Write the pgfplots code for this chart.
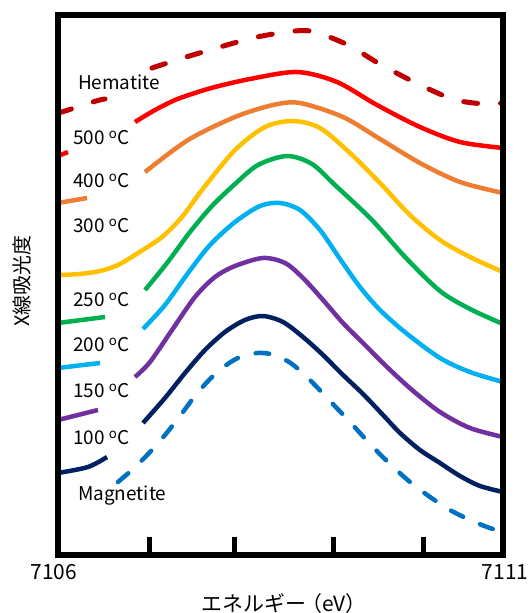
\documentclass[border=0pt]{standalone}
\usepackage{fontspec}
\setmainfont{Noto Sans CJK JP}
\usepackage{pgfplots}
\pgfplotsset{compat=1.18}
\definecolor{hem}{HTML}{C00000}
\definecolor{c500}{HTML}{FF0000}
\definecolor{c400}{HTML}{ED7D31}
\definecolor{c300}{HTML}{FFC000}
\definecolor{c250}{HTML}{00B050}
\definecolor{c200}{HTML}{00B0F0}
\definecolor{c150}{HTML}{7030A0}
\definecolor{c100}{HTML}{002060}
\definecolor{mag}{HTML}{0070C0}
\newcommand{\lab}{\fontsize{19}{19}\selectfont}
\begin{document}
\begin{tikzpicture}
\begin{axis}[
  at={(58bp,58bp)}, anchor=south west, scale only axis,
  width=445bp, height=540bp,
  xmin=7106, xmax=7111, ymin=0, ymax=540,
  axis line style={line width=6bp, black},
  axis on top,
  xtick={7107.03,7107.98,7109.10,7110.11},
  xticklabels={,,,},
  xtick pos=bottom,
  tick align=inside,
  major tick length=18bp,
  tick style={line width=5bp, black},
  ytick=\empty,
  every axis plot/.append style={line join=round},
]
% Hematite (dashed)
\addplot[hem, line width=5bp, line cap=round, dash pattern=on 14bp off 23bp, smooth] coordinates {
(7106.000,442) (7106.079,444) (7106.427,454) (7106.528,456)};
\addplot[hem, line width=5bp, line cap=round, dash pattern=on 14bp off 23bp, smooth] coordinates {
(7107.056,487) (7107.404,497) (7107.820,508) (7108.236,518) (7108.663,524) (7108.888,523) (7109.258,510) (7109.596,492) (7109.955,475) (7110.315,460) (7110.517,454) (7110.798,451) (7111.000,452)};
% 500 C
\addplot[c500, line width=4.5bp] coordinates {(7106.000,399) (7106.112,403)};
\addplot[c500, line width=4.5bp, smooth] coordinates {
(7106.865,433) (7107.090,445) (7107.315,455) (7107.539,462) (7107.764,468) (7108.157,476) (7108.685,483) (7109.135,473) (7109.584,450) (7110.067,428) (7110.517,413) (7111.000,407)};
% 400 C
\addplot[c400, line width=4.5bp] coordinates {(7106.000,352) (7106.326,357)};
\addplot[c400, line width=4.5bp, smooth] coordinates {
(7106.978,383) (7107.461,415) (7107.989,438) (7108.416,450) (7108.719,452) (7109.202,438) (7109.618,416) (7110.067,392) (7110.517,373) (7111.000,362)};
% 300 C
\addplot[c300, line width=4.5bp, smooth] coordinates {
(7106.000,280) (7106.247,281) (7106.472,284) (7106.674,290) (7106.899,302) (7107.169,318) (7107.393,338) (7107.618,365) (7107.989,405) (7108.326,428) (7108.640,434) (7108.944,427) (7109.281,402) (7109.618,372) (7109.955,340) (7110.292,315) (7110.629,298) (7111.000,283)};
% 250 C
\addplot[c250, line width=4.5bp] coordinates {(7106.000,232) (7106.528,238)};
\addplot[c250, line width=4.5bp, smooth] coordinates {
(7106.978,265) (7107.225,292) (7107.483,323) (7107.730,349) (7107.989,371) (7108.247,390) (7108.573,399) (7108.854,391) (7109.112,370) (7109.528,335) (7109.910,297) (7110.292,264) (7110.629,246) (7111.000,231)};
% 200 C
\addplot[c200, line width=4.5bp] coordinates {(7106.000,187) (7106.472,192)};
\addplot[c200, line width=4.5bp, smooth] coordinates {
(7106.955,226) (7107.202,250) (7107.461,282) (7107.708,310) (7107.989,333) (7108.270,349) (7108.494,352) (7108.719,345) (7108.944,325) (7109.169,296) (7109.393,268) (7109.618,245) (7109.910,222) (7110.292,197) (7110.629,183) (7111.000,173)};
% 150 C
\addplot[c150, line width=4.5bp] coordinates {(7106.000,135) (7106.449,145)};
\addplot[c150, line width=4.5bp, smooth] coordinates {
(7106.865,178) (7107.034,193) (7107.281,225) (7107.539,258) (7107.764,278) (7107.989,289) (7108.303,297) (7108.551,292) (7108.753,277) (7108.978,255) (7109.202,232) (7109.427,212) (7109.697,188) (7109.978,165) (7110.292,143) (7110.629,127) (7111.000,118)};
% 100 C
\addplot[c100, line width=4.5bp, smooth] coordinates {(7106.000,82) (7106.337,88) (7106.551,98)};
\addplot[c100, line width=4.5bp, smooth] coordinates {
(7106.955,132) (7107.202,157) (7107.427,182) (7107.652,205) (7107.876,223) (7108.101,235) (7108.303,239) (7108.528,233) (7108.753,218) (7108.978,200) (7109.191,181) (7109.427,161) (7109.652,140) (7109.843,122) (7110.067,105) (7110.292,92) (7110.517,79) (7110.742,69) (7111.000,63)};
% Magnetite (dashed)
\addplot[mag, line width=4.5bp, line cap=round, dash pattern=on 13.5bp off 18.5bp, smooth] coordinates {
(7106.674,73) (7106.843,86) (7107.034,103) (7107.202,120) (7107.371,139) (7107.539,159) (7107.708,176) (7107.876,189) (7108.045,198) (7108.247,202) (7108.438,200) (7108.629,191) (7108.831,175) (7109.056,154) (7109.281,133) (7109.506,111) (7109.730,91) (7109.955,73) (7110.180,58) (7110.404,45) (7110.629,35) (7110.820,28) (7111.000,23)};
\end{axis}
% curve labels
\node[anchor=base west, inner sep=0, font=\lab] at (78bp,523bp) {Hematite};
\node[anchor=base west, inner sep=0, font=\lab] at (73bp,468bp) {500 \textsuperscript{o}C};
\node[anchor=base west, inner sep=0, font=\lab] at (73bp,425bp) {400 \textsuperscript{o}C};
\node[anchor=base west, inner sep=0, font=\lab] at (73bp,380bp) {300 \textsuperscript{o}C};
\node[anchor=base west, inner sep=0, font=\lab] at (73bp,306bp) {250 \textsuperscript{o}C};
\node[anchor=base west, inner sep=0, font=\lab] at (73bp,261bp) {200 \textsuperscript{o}C};
\node[anchor=base west, inner sep=0, font=\lab] at (73bp,215bp) {150 \textsuperscript{o}C};
\node[anchor=base west, inner sep=0, font=\lab] at (73bp,168bp) {100 \textsuperscript{o}C};
\node[anchor=base west, inner sep=0, font=\lab] at (78bp,112bp) {Magnetite};
% tick labels
\node[anchor=base, inner sep=0, font=\fontsize{21}{21}\selectfont] at (54bp,34bp) {7106};
\node[anchor=base, inner sep=0, font=\fontsize{21}{21}\selectfont] at (505bp,34bp) {7111};
% axis labels
\node[inner sep=0, font=\fontsize{21}{21}\selectfont] at (284bp,9bp) {エネルギー\hspace{-0.25em}（eV）};
\node[inner sep=0, rotate=90, font=\fontsize{20}{20}\selectfont] at (22bp,332bp) {X線吸光度};
\pgfresetboundingbox
\path[use as bounding box] (0,0) rectangle (531bp,613bp);
\end{tikzpicture}
\end{document}
